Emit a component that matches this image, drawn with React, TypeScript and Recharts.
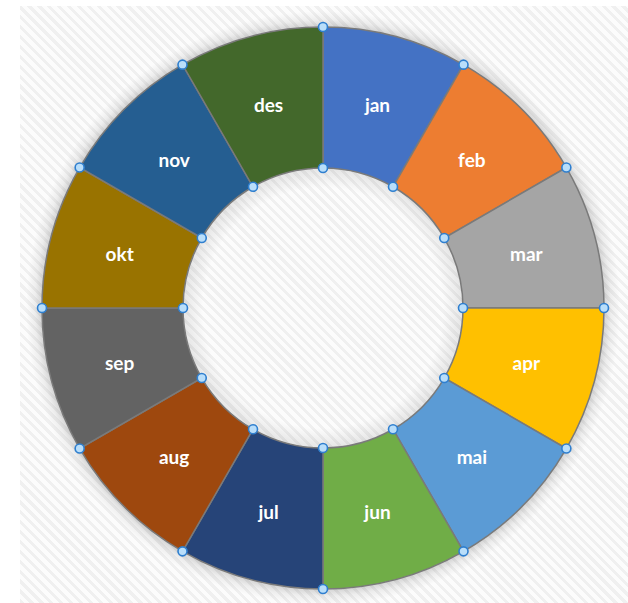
import React from 'react';
import { PieChart, Pie, Cell } from 'recharts';

const MONTHS = ['jan', 'feb', 'mar', 'apr', 'mai', 'jun', 'jul', 'aug', 'sep', 'okt', 'nov', 'des'];
const VALUES = [1, 1, 1, 1, 1, 1, 1, 1, 1, 1, 1, 1];
const COLORS = ['#4472C4', '#ED7D31', '#A5A5A5', '#FFC000', '#5B9BD5', '#70AD47', '#264478', '#9E480E', '#636363', '#997300', '#255E91', '#43682B'];

const data = MONTHS.map((name, i) => ({ name, value: VALUES[i] }));

const RAD = Math.PI / 180;
const CX = 323;
const CY = 308;

// label in the middle of the ring, plus the little selection handles at the start edge
const renderLabel = (props: any) => {
  const { cx, cy, midAngle, startAngle, innerRadius, outerRadius, name } = props;
  const r = (innerRadius + outerRadius) / 2;
  const x = cx + r * Math.cos(-midAngle * RAD);
  const y = cy + r * Math.sin(-midAngle * RAD);
  const handles = [innerRadius, outerRadius].map((rr: number) => ({
    x: cx + rr * Math.cos(-startAngle * RAD),
    y: cy + rr * Math.sin(-startAngle * RAD),
  }));
  return (
    <g>
      <text x={x} y={y} fill="#ffffff" textAnchor="middle" dominantBaseline="central"
        fontFamily="Lato, 'Open Sans', sans-serif" fontWeight={700} fontSize={19}>
        {name}
      </text>
      {handles.map((h, i) => (
        <circle key={i} cx={h.x} cy={h.y} r={4.5} fill="#b9defa" stroke="#2f7fcf" strokeWidth={1.6} />
      ))}
    </g>
  );
};

const App: React.FC = () => {
  return (
    <div style={{ position: 'absolute', left: 0, top: 0, width: 628, height: 603, background: '#ffffff' }}>
      <div
        style={{
          position: 'absolute', left: 20, top: 6, width: 608, height: 597,
          backgroundImage: `radial-gradient(circle at ${CX - 20}px ${CY - 6}px, rgba(0,0,0,0) 120px, rgba(0,0,0,0.09) 140px, rgba(0,0,0,0.16) 281px, rgba(0,0,0,0.06) 288px, rgba(0,0,0,0) 297px), repeating-linear-gradient(45deg, #f0f0f0 0px, #f0f0f0 3px, #fcfcfc 3px, #fcfcfc 7px)`,
        }}
      />
      <div style={{ position: 'absolute', left: 0, top: 0 }}>
        <PieChart width={628} height={603} margin={{ top: 0, right: 0, bottom: 0, left: 0 }}>
          <Pie
            data={data}
            dataKey="value"
            nameKey="name"
            cx={CX}
            cy={CY}
            innerRadius={140}
            outerRadius={281}
            startAngle={90}
            endAngle={-270}
            stroke="#7a7a7a"
            strokeWidth={1.5}
            label={renderLabel}
            labelLine={false}
            isAnimationActive={false}
          >
            {data.map((d, i) => (
              <Cell key={d.name} fill={COLORS[i]} />
            ))}
          </Pie>
        </PieChart>
      </div>
    </div>
  );
};

export default App;
